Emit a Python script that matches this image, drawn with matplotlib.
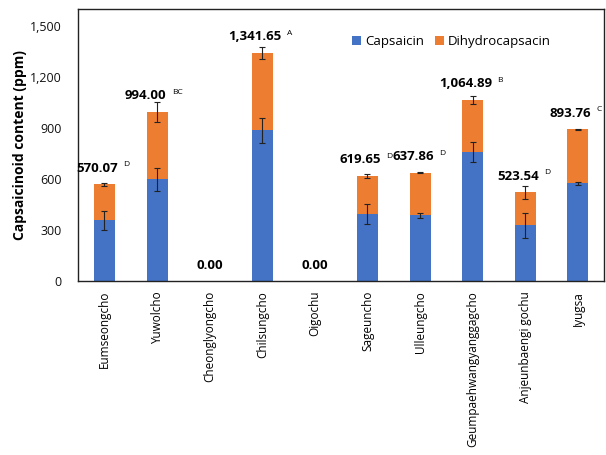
import matplotlib
matplotlib.use("Agg")
import matplotlib.pyplot as plt
import numpy as np

plt.rcParams['font.family'] = ['Open Sans', 'DejaVu Sans']

# data
cultivars = ['Eumseongcho', 'Yuwolcho', 'Cheonglyongcho', 'Chilsungcho', 'Oigochu',
             'Sageuncho', 'Ulleungcho', 'Geumpaehwangyanggagcho', 'Anjeunbaengi gochu', 'Iyugsa']
capsaicin = [357, 598, 0, 888, 0, 394, 388, 761, 329, 575]
capsaicin_err = [55, 70, 0, 73, 0, 60, 14, 59, 74, 11]
total = [570.07, 994.00, 0.00, 1341.65, 0.00, 619.65, 637.86, 1064.89, 523.54, 893.76]
total_err = [10, 58, 0, 34, 0, 12, 4, 24, 39, 3]
letters = ['D', 'BC', '', 'A', '', 'D', 'D', 'B', 'D', 'C']

dihydro = [t - c for t, c in zip(total, capsaicin)]

blue = '#4472C4'
orange = '#ED7D31'

fig = plt.figure(figsize=(6.06, 4.55), dpi=100)
ax = fig.add_axes([0.129, 0.382, 0.868, 0.598])

x = np.arange(len(cultivars))
w = 0.4
ax.bar(x, capsaicin, w, color=blue, label='Capsaicin')
ax.bar(x, dihydro, w, bottom=capsaicin, color=orange, label='Dihydrocapsacin')

# error bars (skip the zero bars)
mask = np.array(total) > 0
ax.errorbar(x[mask], np.array(capsaicin)[mask], yerr=np.array(capsaicin_err)[mask],
            fmt='none', ecolor='#222222', elinewidth=0.8, capsize=2.5, capthick=0.8)
ax.errorbar(x[mask], np.array(total)[mask], yerr=np.array(total_err)[mask],
            fmt='none', ecolor='#222222', elinewidth=0.8, capsize=2.5, capthick=0.8)

# total labels with significance letters
for i, (t, let) in enumerate(zip(total, letters)):
    shift = -3.2 * len(let) - (2 if let else 0)
    txt = ax.annotate(f'{t:,.2f}', xy=(i, t + 95), xytext=(shift, 0),
                      textcoords='offset points', ha='center', va='center',
                      fontsize=9.5, fontweight='bold', color='black')
    if let:
        ax.annotate(let, xy=(1, 0.75), xycoords=txt, xytext=(4, 0),
                    textcoords='offset points', ha='left', va='center',
                    fontsize=6, color='black')

ax.set_xlim(-0.5, len(cultivars) - 0.5)
ax.set_ylim(0, 1600)
ax.set_yticks(range(0, 1501, 300))
ax.set_yticklabels([f'{v:,}' for v in range(0, 1501, 300)], fontsize=9, color='#111111')
ax.set_xticks(x)
ax.set_xticklabels(cultivars, rotation=90, fontsize=8.5)
ax.tick_params(axis='y', length=0, pad=12)
ax.tick_params(axis='x', length=0, pad=7)
ax.set_ylabel('Capsaicinoid content (ppm)', fontsize=10, fontweight='bold', labelpad=2)

for s in ax.spines.values():
    s.set_linewidth(1.0)
    s.set_color('#222222')

ax.legend(loc='center', bbox_to_anchor=(0.71, 0.88), ncol=2, frameon=False,
          fontsize=9.5, handlelength=0.7, handleheight=0.7, handletextpad=0.3,
          columnspacing=0.8)

fig.savefig('out.png', dpi=100)
